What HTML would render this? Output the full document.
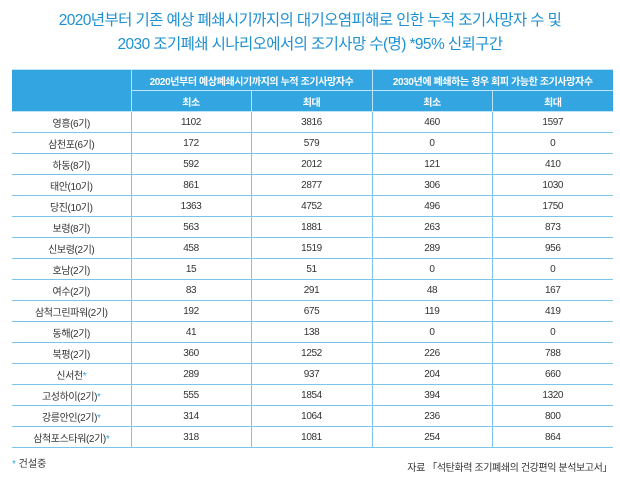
<!DOCTYPE html>
<html><head><meta charset="utf-8"><style>
body{margin:0;width:620px;height:479px;background:#fff;font-family:"Liberation Sans","Noto Sans CJK KR",sans-serif;position:relative;overflow:hidden}
.t{position:absolute;left:0;width:620px;text-align:center;color:#1e90d2;font-size:15.5px;letter-spacing:-0.6px}
table{position:absolute;left:12px;top:69px;width:601px;border-collapse:collapse;table-layout:fixed;font-size:10px;color:#333;letter-spacing:-0.4px}
td{height:20px;padding:0;text-align:center;border:1px solid #7cc4ea}
tr.h td{background:#33a5e0;color:#fff;font-weight:bold;border-color:#bfe3f6}
tr.h1 td{height:20px}
td:first-child{border-left:none}td:last-child{border-right:none}
.s{color:#33a5e0}
</style></head><body>
<div class="t" style="top:8px">2020년부터 기존 예상 폐쇄시기까지의 대기오염피해로 인한 누적 조기사망자 수 및</div>
<div class="t" style="top:32px">2030 조기폐쇄 시나리오에서의 조기사망 수(명) *95% 신뢰구간</div>
<table>
<colgroup><col style="width:119px"><col style="width:120px"><col style="width:121px"><col style="width:120px"><col style="width:121px"></colgroup>
<tr class="h h1"><td rowspan="2"></td><td colspan="2">2020년부터 예상폐쇄시기까지의 누적 조기사망자수</td><td colspan="2">2030년에 폐쇄하는 경우 회피 가능한 조기사망자수</td></tr>
<tr class="h"><td>최소</td><td>최대</td><td>최소</td><td>최대</td></tr>
<tr><td>영흥(6기)</td><td>1102</td><td>3816</td><td>460</td><td>1597</td></tr>
<tr><td>삼천포(6기)</td><td>172</td><td>579</td><td>0</td><td>0</td></tr>
<tr><td>하동(8기)</td><td>592</td><td>2012</td><td>121</td><td>410</td></tr>
<tr><td>태안(10기)</td><td>861</td><td>2877</td><td>306</td><td>1030</td></tr>
<tr><td>당진(10기)</td><td>1363</td><td>4752</td><td>496</td><td>1750</td></tr>
<tr><td>보령(8기)</td><td>563</td><td>1881</td><td>263</td><td>873</td></tr>
<tr><td>신보령(2기)</td><td>458</td><td>1519</td><td>289</td><td>956</td></tr>
<tr><td>호남(2기)</td><td>15</td><td>51</td><td>0</td><td>0</td></tr>
<tr><td>여수(2기)</td><td>83</td><td>291</td><td>48</td><td>167</td></tr>
<tr><td>삼척그린파워(2기)</td><td>192</td><td>675</td><td>119</td><td>419</td></tr>
<tr><td>동해(2기)</td><td>41</td><td>138</td><td>0</td><td>0</td></tr>
<tr><td>북평(2기)</td><td>360</td><td>1252</td><td>226</td><td>788</td></tr>
<tr><td>신서천<span class="s">*</span></td><td>289</td><td>937</td><td>204</td><td>660</td></tr>
<tr><td>고성하이(2기)<span class="s">*</span></td><td>555</td><td>1854</td><td>394</td><td>1320</td></tr>
<tr><td>강릉안인(2기)<span class="s">*</span></td><td>314</td><td>1064</td><td>236</td><td>800</td></tr>
<tr><td>삼척포스타워(2기)<span class="s">*</span></td><td>318</td><td>1081</td><td>254</td><td>864</td></tr>
</table>
<div style="position:absolute;left:12px;top:455px;font-size:10px;color:#333"><span class="s">*</span> 건설중</div>
<div style="position:absolute;right:8px;top:459px;font-size:10px;color:#333;letter-spacing:-0.4px">자료 「석탄화력 조기폐쇄의 건강편익 분석보고서」</div>
</body></html>
